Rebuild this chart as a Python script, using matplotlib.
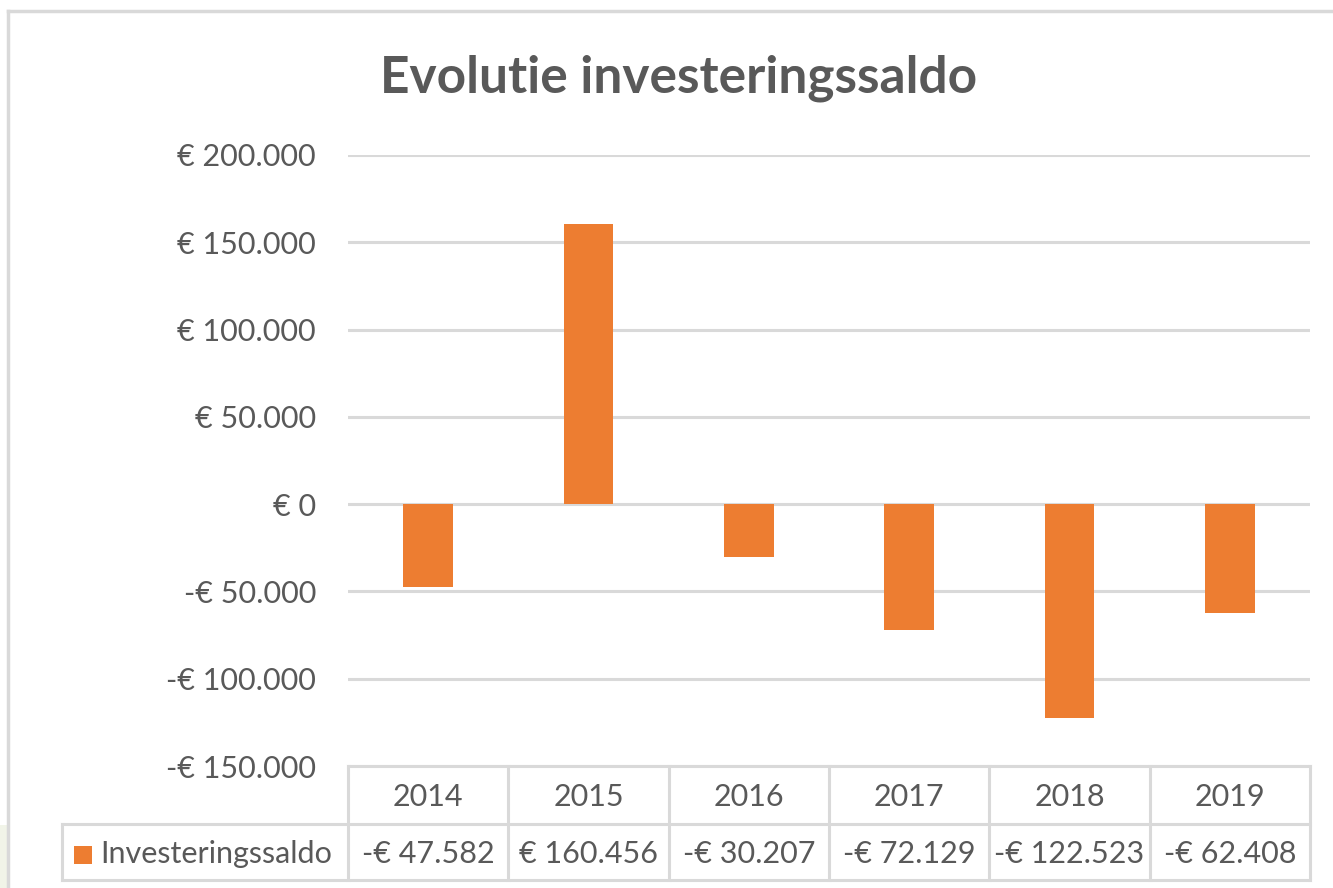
import matplotlib
matplotlib.use("Agg")
import matplotlib.pyplot as plt
from matplotlib.lines import Line2D
from matplotlib.patches import Rectangle

years = ["2014", "2015", "2016", "2017", "2018", "2019"]
values = [-47582, 160456, -30207, -72129, -122523, -62408]
series_name = "Investeringssaldo"
title = "Evolutie investeringssaldo"
yticks = [-150000, -100000, -50000, 0, 50000, 100000, 150000, 200000]

W, H = 1333, 888
FONT = "Lato"
TXT = "#595959"
GRID = "#D9D9D9"
BAR = "#ED7D31"

def fmt(v):
    s = f"{abs(int(v)):,}".replace(",", ".")
    return ("-€ " if v < 0 else "€ ") + s

def fx(x):
    return x / W

def fy(y):
    return 1 - y / H

fig = plt.figure(figsize=(W / 100, H / 100), dpi=100)
fig.patch.set_facecolor("white")

# faint background at the bottom-left edge and outer frame
fig.add_artist(Rectangle((0, fy(888)), fx(8), fy(825) - fy(888), transform=fig.transFigure,
                         facecolor="#F1F4E8", edgecolor="none"))
fig.add_artist(Line2D([fx(8), fx(8)], [fy(11), fy(888)], transform=fig.transFigure, color=GRID, lw=2.5))
fig.add_artist(Line2D([fx(8), fx(1333)], [fy(11), fy(11)], transform=fig.transFigure, color=GRID, lw=2.5))

x0, x1 = 348, 1310
ytop, ybot = 155, 766
ax = fig.add_axes([fx(x0), fy(ybot), fx(x1) - fx(x0), fy(ytop) - fy(ybot)])
ax.set_facecolor("white")
xs = list(range(len(years)))
ax.bar(xs, values, width=0.31, color=BAR, zorder=3)
ax.set_xlim(-0.5, len(years) - 0.5)
ax.set_ylim(-150000, 200000)
ax.set_yticks(yticks)
ax.set_yticklabels([fmt(v) if v != 0 else "€ 0" for v in yticks], fontsize=22, color=TXT, family=FONT)
ax.tick_params(axis="y", length=0, pad=23)
ax.set_xticks([])
ax.grid(axis="y", color=GRID, lw=2.2, zorder=0)
for s in ax.spines.values():
    s.set_visible(False)

fig.text(fx(679), fy(78), title, ha="center", va="center", fontsize=37, fontweight="bold",
         color=TXT, family=FONT)

# data table
r0, r1, r2 = 766, 824, 880
lx = 62
colw = (x1 - x0) / len(years)
def hline(xa, xb, y):
    fig.add_artist(Line2D([fx(xa), fx(xb)], [fy(y), fy(y)], transform=fig.transFigure, color=GRID, lw=2.2))
def vline(x, ya, yb):
    fig.add_artist(Line2D([fx(x), fx(x)], [fy(ya), fy(yb)], transform=fig.transFigure, color=GRID, lw=2.2))

hline(x0, x1, r0)
hline(lx, x1, r1)
hline(lx, x1, r2)
vline(lx, r1, r2)
for i in range(len(years) + 1):
    vline(x0 + i * colw, r0, r2)
for i, (yr, v) in enumerate(zip(years, values)):
    cx = x0 + (i + 0.5) * colw
    fig.text(fx(cx), fy((r0 + r1) / 2 + 2), yr, ha="center", va="center", fontsize=22, color=TXT, family=FONT)
    fig.text(fx(cx), fy((r1 + r2) / 2 + 2), fmt(v), ha="center", va="center", fontsize=22, color=TXT, family=FONT)

fig.add_artist(Rectangle((fx(74), fy(864)), fx(18), fy(846) - fy(864), transform=fig.transFigure,
                         facecolor=BAR, edgecolor="none"))
fig.text(fx(100), fy((r1 + r2) / 2 + 2), series_name, ha="left", va="center", fontsize=22, color=TXT, family=FONT)

fig.savefig("out.png", dpi=100, facecolor="white")
